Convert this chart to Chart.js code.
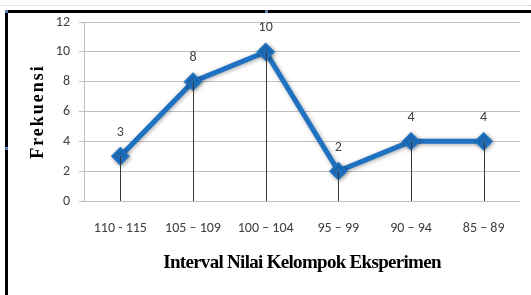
<!DOCTYPE html>
<html>
<head>
<meta charset="utf-8">
<script src="https://cdn.jsdelivr.net/npm/chart.js@4/dist/chart.umd.min.js"></script>
<style>
  html, body { margin: 0; padding: 0; background: #ffffff; }
  #wrap { position: relative; width: 531px; height: 295px; overflow: hidden; }
  #c { position: absolute; left: 0; top: 0; }
  .bt { position: absolute; left: 5px; top: 10px; width: 526px; height: 3px; background: #000; }
  .bl { position: absolute; left: 5px; top: 10px; width: 3px; height: 285px; background: #000; }
  .dash { position: absolute; left: 0; top: 5px; width: 531px; height: 0; border-top: 1px dotted #c8d0dc; }
  .h { position: absolute; width: 3px; height: 3px; background: #5a7fb0; }
</style>
</head>
<body>
<div id="wrap">
  <canvas id="c" width="531" height="295"></canvas>
  <div class="dash"></div>
  <div class="bt"></div>
  <div class="bl"></div>
  <div class="h" style="left:5px;top:10px"></div>
  <div class="h" style="left:265px;top:10px"></div>
  <div class="h" style="left:5px;top:147px"></div>
</div>
<script>
// ---- data ----
const categories = ["110 - 115", "105 \u2013 109", "100 \u2013 104", "95 \u2013 99", "90 \u2013 94", "85 \u2013 89"];
const frekuensi = [3, 8, 10, 2, 4, 4];
const yTicks = [0, 2, 4, 6, 8, 10, 12];
const xTitle = "Interval Nilai Kelompok Eksperimen";
const yTitle = "Frekuensi";

const BLUE = '#1f72c2';
const TICK_FONT = 'Carlito, Lato, "Liberation Sans", sans-serif';
const SERIF = '"Liberation Serif", "DejaVu Serif", serif';

const dropLines = {
  id: 'dropLines',
  afterDatasetsDraw(chart) {
    const ctx = chart.ctx;
    const meta = chart.getDatasetMeta(0);
    const bottom = chart.scales.y.getPixelForValue(0);
    ctx.save();
    ctx.strokeStyle = '#3a3a3a';
    ctx.lineWidth = 1;
    meta.data.forEach(pt => {
      const x = Math.round(pt.x) + 0.5;
      ctx.beginPath();
      ctx.moveTo(x, pt.y);
      ctx.lineTo(x, bottom);
      ctx.stroke();
    });
    ctx.restore();
  }
};

const dataLabels = {
  id: 'dataLabels',
  afterDatasetsDraw(chart) {
    const ctx = chart.ctx;
    const meta = chart.getDatasetMeta(0);
    const ds = chart.data.datasets[0];
    ctx.save();
    ctx.font = '14px ' + TICK_FONT;
    ctx.fillStyle = '#404040';
    ctx.textAlign = 'center';
    ctx.textBaseline = 'middle';
    meta.data.forEach((pt, i) => {
      ctx.fillText(String(ds.data[i]), pt.x, pt.y - 24);
    });
    ctx.restore();
  }
};

const shadow = {
  id: 'shadow',
  beforeDatasetDraw(chart) {
    const ctx = chart.ctx;
    ctx.save();
    ctx.shadowColor = 'rgba(0,0,0,0.35)';
    ctx.shadowBlur = 4;
    ctx.shadowOffsetX = 1;
    ctx.shadowOffsetY = 1;
  },
  afterDatasetDraw(chart) {
    chart.ctx.restore();
  }
};

const titleSpacing = {
  id: 'titleSpacing',
  afterLayout(chart) {
    const sp = { x: '-0.7px', y: '2px' };
    ['x', 'y'].forEach(k => {
      const s = chart.scales[k];
      if (s && !s._spWrapped) {
        const orig = s.drawTitle.bind(s);
        s.drawTitle = function () {
          const c = this.ctx;
          c.save();
          c.letterSpacing = sp[k];
          orig();
          c.restore();
        };
        s._spWrapped = true;
      }
    });
  }
};

new Chart(document.getElementById('c'), {
  type: 'line',
  data: {
    labels: categories,
    datasets: [{
      data: frekuensi,
      borderColor: BLUE,
      backgroundColor: BLUE,
      borderWidth: 5,
      pointStyle: 'rectRot',
      pointRadius: 8,
      pointBorderWidth: 2,
      pointBorderColor: BLUE,
      pointBackgroundColor: BLUE,
      tension: 0,
      fill: false
    }]
  },
  options: {
    responsive: false,
    devicePixelRatio: 1,
    animation: false,
    events: [],
    layout: { padding: { left: 0, top: 22, right: 11, bottom: 0 } },
    plugins: {
      legend: { display: false },
      tooltip: { enabled: false },
      title: { display: false }
    },
    scales: {
      x: {
        type: 'category',
        offset: true,
        grid: { display: false, drawTicks: false },
        border: { display: false },
        ticks: {
          color: '#404040',
          font: { family: TICK_FONT, size: 14 },
          padding: 19,
          maxRotation: 0,
          autoSkip: false
        },
        title: {
          display: true,
          text: xTitle,
          color: '#000000',
          font: { family: SERIF, size: 19, weight: 'bold' },
          padding: { top: 0, bottom: 21 }
        },
        afterFit(scale) { scale.height = 94; }
      },
      y: {
        min: 0,
        max: 12,
        afterBuildTicks(scale) { scale.ticks = yTicks.map(v => ({ value: v })); },
        grid: { color: '#bfbfbf', lineWidth: 1, tickLength: 5, drawTicks: true },
        border: { display: true, color: '#bfbfbf', width: 1 },
        ticks: {
          color: '#404040',
          font: { family: TICK_FONT, size: 14 },
          padding: 9
        },
        title: {
          display: true,
          text: yTitle,
          color: '#000000',
          font: { family: SERIF, size: 18, weight: 'bold' },
          padding: { top: 28, bottom: 0 }
        },
        afterFit(scale) { scale.width = 84; }
      }
    }
  },
  plugins: [shadow, dropLines, dataLabels, titleSpacing]
});
</script>
</body>
</html>
